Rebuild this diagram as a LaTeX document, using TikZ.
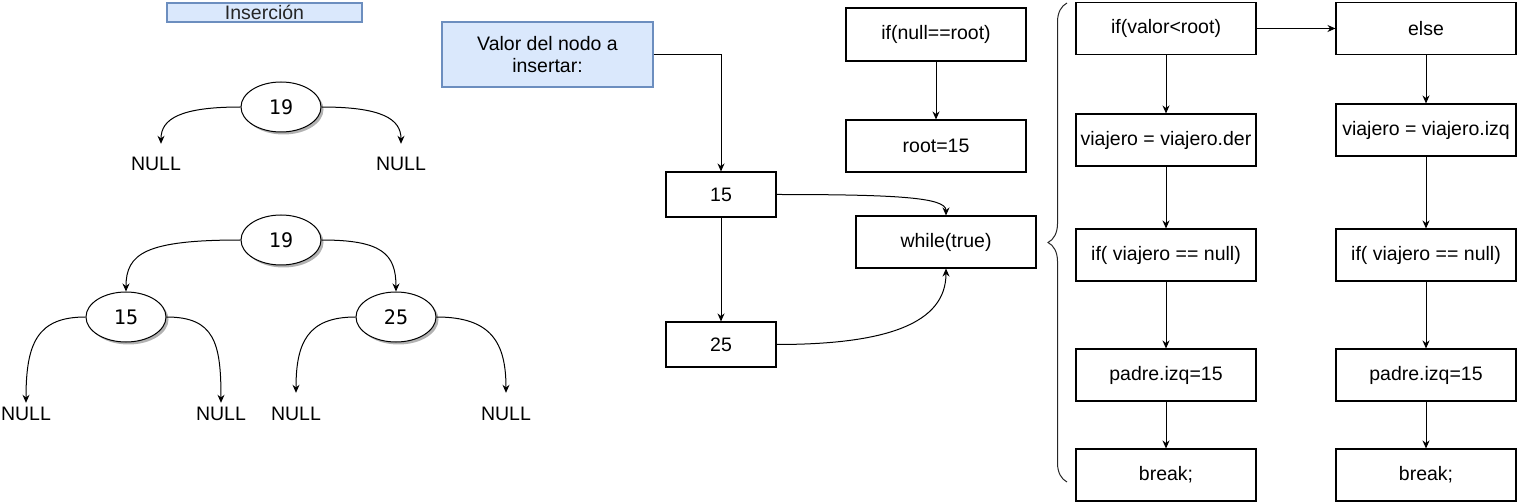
\documentclass[tikz,border=0pt]{standalone}
\usepackage{fontspec}
\setmainfont{Liberation Sans}
\newfontfamily\monofnt{DejaVu Sans Mono}
\usetikzlibrary{arrows.meta,shapes.geometric,decorations.pathreplacing,shadows}
\definecolor{lblue}{HTML}{DAE8FC}
\definecolor{bblue}{HTML}{6C8EBF}
\begin{document}
\begin{tikzpicture}[x=1pt,y=-1pt,
  every node/.style={font=\fontsize{19.5}{22}\selectfont},
  blk/.style={draw, line width=1.1pt, minimum width=180pt, minimum height=52pt, inner sep=1pt},
  sblk/.style={draw, line width=1.1pt, minimum width=110pt, minimum height=45pt, inner sep=1pt},
  bluebox/.style={draw=bblue, fill=lblue, line width=1.1pt, inner sep=1pt, align=center},
  tnode/.style={ellipse, draw, line width=1pt, fill=white, minimum width=80pt, minimum height=50pt, inner sep=0pt,
    font=\monofnt\fontsize{20}{22}\selectfont,
    drop shadow={shadow xshift=2.5pt, shadow yshift=-2.5pt, fill=black, opacity=0.3}},
  nulltxt/.style={inner sep=0pt, text height=14pt, text depth=0pt},
  arr/.style={-{Stealth[length=8pt,width=7pt]}, line width=1pt}
]
\useasboundingbox (0,0) rectangle (1517,502);

% title
\node[bluebox, minimum width=195pt, minimum height=19pt, text=black!85] (ins) at (264.5,12.5) {Inserción};

% first tree
\node[tnode] (t1) at (281,107) {19};
\node[nulltxt] (nA) at (156,164) {NULL};
\node[nulltxt] (nB) at (401,164) {NULL};
\draw[arr] (t1.west) .. controls +(-60,0) and +(0,-25) .. ([xshift=5pt,yshift=13pt]nA.north);
\draw[arr] (t1.east) .. controls +(60,0) and +(0,-25) .. ([yshift=13pt]nB.north);

% second tree
\node[tnode] (t2) at (281,240) {19};
\node[tnode] (t15) at (126,317) {15};
\node[tnode] (t25) at (396,317) {25};
\node[nulltxt] (n1) at (26,413) {NULL};
\node[nulltxt] (n2) at (221,413) {NULL};
\node[nulltxt] (n3) at (296,413) {NULL};
\node[nulltxt] (n4) at (506,413) {NULL};
\draw[arr] (t2.west) .. controls +(-95,0) and +(0,-38) .. (t15.north);
\draw[arr] (t2.east) .. controls +(60,0) and +(0,-38) .. (t25.north);
\draw[arr] (t15.west) .. controls +(-48,0) and +(0,-60) .. ([yshift=3pt]n1.north);
\draw[arr] (t15.east) .. controls +(48,0) and +(0,-60) .. ([yshift=3pt]n2.north);
\draw[arr] (t25.west) .. controls +(-48,0) and +(0,-50) .. ([yshift=13pt]n3.north);
\draw[arr] (t25.east) .. controls +(55,0) and +(0,-50) .. ([yshift=13pt]n4.north);

% middle
\node[bluebox, minimum width=211pt, minimum height=65pt] (valor) at (547.5,54.5) {Valor del nodo a\\insertar:};
\node[sblk] (b15) at (721,194.5) {15};
\node[sblk] (b25) at (721,344.5) {25};
\node[blk, minimum height=53pt] (ifnull) at (936,34.5) {if(null==root)};
\node[blk] (root) at (936,146) {root=15};
\node[blk] (wh) at (946,242) {while(true)};
\draw[arr] (valor.east) -| (b15.north);
\draw[arr] (b15.south) -- (b25.north);
\draw[arr] (ifnull.south) -- (root.north);
\draw[arr] (b15.east) .. controls +(120,0) and +(0,-18) .. (wh.north);
\draw[arr] (b25.east) .. controls +(110,0) and +(0,55) .. (wh.south);

% brace
\draw[line width=1pt, black!85, decorate, decoration={brace, amplitude=19pt}] (1067,482) -- (1067,3);

% right columns
\node[blk] (l1) at (1166,28.5) {if(valor<root)};
\node[blk] (l2) at (1166,140) {viajero = viajero.der};
\node[blk] (l3) at (1166,255) {if( viajero == null)};
\node[blk] (l4) at (1166,375) {padre.izq=15};
\node[blk] (l5) at (1166,475) {break;};
\node[blk] (r1) at (1426,28.5) {else};
\node[blk] (r2) at (1426,130) {viajero = viajero.izq};
\node[blk] (r3) at (1426,255) {if( viajero == null)};
\node[blk] (r4) at (1426,375) {padre.izq=15};
\node[blk] (r5) at (1426,475) {break;};
\draw[arr] (l1.east) -- (r1.west);
\draw[arr] (l1.south) -- (l2.north);
\draw[arr] (l2.south) -- (l3.north);
\draw[arr] (l3.south) -- (l4.north);
\draw[arr] (l4.south) -- (l5.north);
\draw[arr] (r1.south) -- (r2.north);
\draw[arr] (r2.south) -- (r3.north);
\draw[arr] (r3.south) -- (r4.north);
\draw[arr] (r4.south) -- (r5.north);
\end{tikzpicture}
\end{document}
